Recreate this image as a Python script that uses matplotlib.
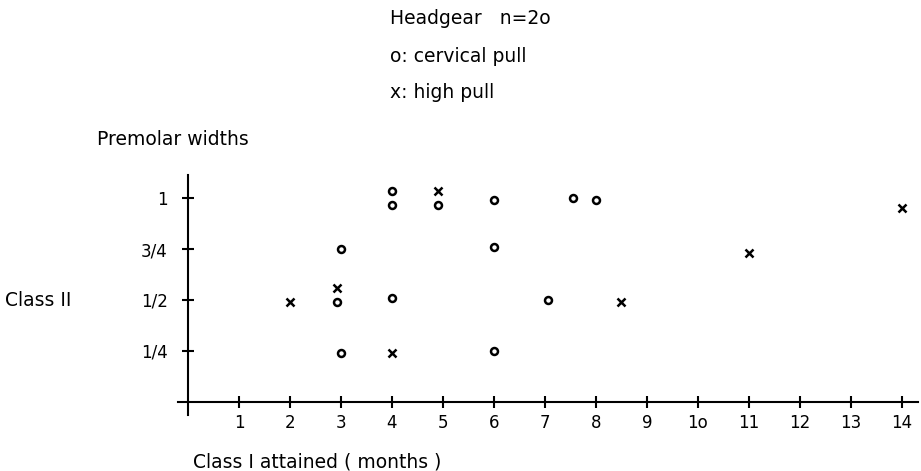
import matplotlib
matplotlib.use("Agg")
import matplotlib.pyplot as plt

# cervical pull (o)
cervical_months = [2.93, 3.0, 3.0, 4.0, 4.0, 4.0, 4.9, 6.0, 6.0, 6.0, 7.05, 7.55, 8.0]
cervical_widths = [0.49, 0.75, 0.24, 1.035, 0.965, 0.51, 0.965, 0.99, 0.76, 0.25, 0.50, 1.0, 0.99]

# high pull (x)
high_months = [2.0, 2.93, 4.0, 4.9, 8.5, 11.0, 14.0]
high_widths = [0.49, 0.56, 0.24, 1.035, 0.49, 0.73, 0.95]

x_ticks = list(range(1, 15))
x_labels = ["1", "2", "3", "4", "5", "6", "7", "8", "9", "1o", "11", "12", "13", "14"]
y_ticks = [0.25, 0.5, 0.75, 1.0]
y_labels = ["1/4", "1/2", "3/4", "1"]

fig = plt.figure(figsize=(9.21, 4.71), dpi=100)
ax = fig.add_axes([178 / 921, 1 - 415 / 471, 740 / 921, 240 / 471])

ax.plot(cervical_months, cervical_widths, linestyle="none", marker="o",
        markersize=5, markerfacecolor="white", markeredgecolor="black", markeredgewidth=1.8)
ax.plot(high_months, high_widths, linestyle="none", marker="x",
        markersize=6, color="black", markeredgewidth=1.8)

ax.set_xlim(-0.196, 14.314)
ax.set_ylim(-0.064, 1.113)

for side in ["top", "right"]:
    ax.spines[side].set_visible(False)
ax.spines["left"].set_position(("data", 0))
ax.spines["bottom"].set_position(("data", 0))
ax.spines["left"].set_linewidth(1.5)
ax.spines["bottom"].set_linewidth(1.5)

ax.set_xticks(x_ticks)
ax.set_xticklabels(x_labels)
ax.set_yticks(y_ticks)
ax.set_yticklabels(y_labels)
ax.tick_params(axis="both", direction="inout", length=9, width=1.5, labelsize=12)
ax.tick_params(axis="x", pad=4)
ax.tick_params(axis="y", pad=10)

fs = 13.5
fig.text(390 / 921, 1 - 18 / 471, "Headgear   n=2o", fontsize=fs, va="center")
fig.text(390 / 921, 1 - 56 / 471, "o: cervical pull", fontsize=fs, va="center")
fig.text(390 / 921, 1 - 93 / 471, "x: high pull", fontsize=fs, va="center")
fig.text(97 / 921, 1 - 140 / 471, "Premolar widths", fontsize=fs, va="center")
fig.text(5 / 921, 1 - 300 / 471, "Class II", fontsize=fs, va="center")
fig.text(193 / 921, 1 - 462 / 471, "Class I attained ( months )", fontsize=fs, va="center")

fig.savefig("out.png", dpi=100)
